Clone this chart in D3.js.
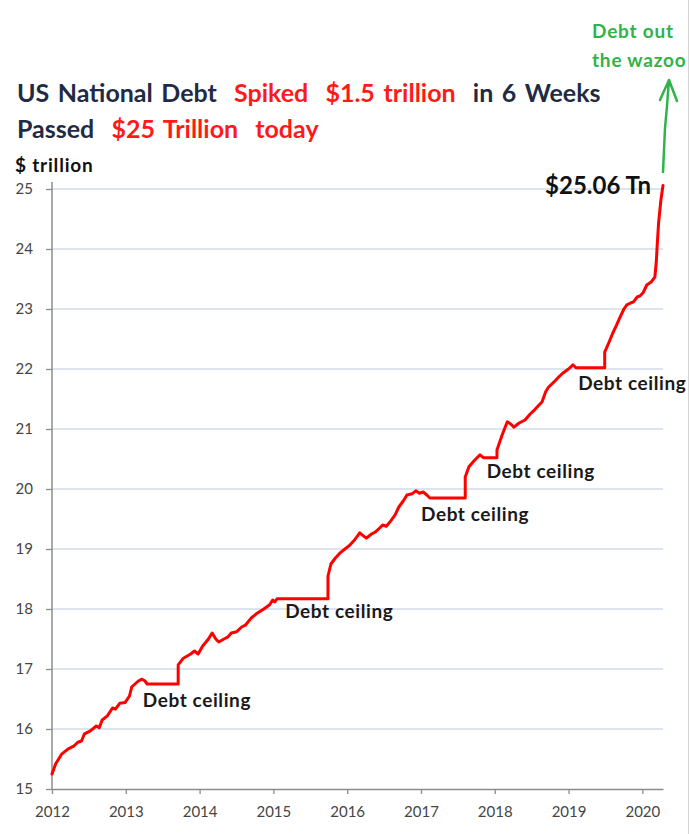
<!DOCTYPE html>
<html><head><meta charset="utf-8">
<script src="https://cdn.jsdelivr.net/npm/d3@7"></script>
<style>body{margin:0;background:#fff} svg{display:block}</style>
</head><body>
<svg id="c" width="690" height="834"></svg>
<script>
// ---- data ----
const years = [2012.00,2012.05,2012.13,2012.22,2012.30,2012.35,2012.40,2012.44,2012.52,2012.60,2012.64,2012.68,2012.75,2012.82,2012.86,2012.92,2012.99,
  2013.05,2013.08,2013.17,2013.22,2013.26,2013.29,2013.71,2013.71,2013.78,2013.88,2013.93,2013.98,
  2014.04,2014.12,2014.17,2014.22,2014.26,2014.33,2014.38,2014.43,2014.50,2014.57,2014.62,2014.70,2014.78,2014.87,2014.95,2014.99,
  2015.02,2015.05,2015.74,2015.74,2015.78,2015.84,2015.90,2015.97,
  2016.04,2016.10,2016.17,2016.22,2016.26,2016.33,2016.38,2016.44,2016.48,2016.53,2016.58,2016.65,2016.70,2016.76,2016.81,2016.88,2016.93,2016.98,
  2017.03,2017.08,2017.12,2017.60,2017.60,2017.65,2017.72,2017.80,2017.85,
  2018.03,2018.03,2018.10,2018.17,2018.22,2018.26,2018.33,2018.41,2018.48,2018.54,2018.60,2018.64,2018.69,2018.73,2018.80,2018.87,2018.92,
  2019.00,2019.06,2019.10,2019.49,2019.49,2019.55,2019.60,2019.65,2019.70,2019.75,2019.79,2019.84,2019.88,2019.93,2019.97,
  2020.01,2020.06,2020.12,2020.17,2020.19,2020.20,2020.22,2020.25,2020.28];
const debt = [15.25,15.42,15.58,15.67,15.72,15.78,15.80,15.92,15.97,16.05,16.02,16.15,16.22,16.35,16.33,16.43,16.44,
  16.55,16.70,16.80,16.83,16.80,16.75,16.75,17.07,17.18,17.25,17.30,17.25,
  17.38,17.50,17.60,17.50,17.45,17.50,17.53,17.60,17.62,17.70,17.73,17.85,17.93,18.00,18.07,18.15,
  18.12,18.17,18.17,18.55,18.75,18.85,18.93,19.00,
  19.07,19.15,19.27,19.22,19.18,19.25,19.28,19.35,19.40,19.38,19.45,19.57,19.70,19.80,19.90,19.92,19.97,19.93,
  19.95,19.90,19.85,19.85,20.20,20.37,20.47,20.57,20.52,
  20.52,20.65,20.90,21.12,21.08,21.03,21.10,21.15,21.25,21.32,21.40,21.45,21.62,21.70,21.78,21.87,21.93,
  22.00,22.07,22.02,22.02,22.28,22.45,22.60,22.73,22.87,23.00,23.07,23.10,23.12,23.20,23.22,
  23.27,23.40,23.45,23.53,23.80,24.03,24.43,24.80,25.06];
const xTicks = [2012,2013,2014,2015,2016,2017,2018,2019,2020];
const yTicks = [15,16,17,18,19,20,21,22,23,24,25];
const ceilingYears = [2013.23,2015.16,2017.00,2017.89,2019.13];
const ceilingLevels = [16.37,17.85,19.47,20.18,21.65];
const ceilingText = "Debt ceiling";
const lastLabel = "$25.06 Tn";
const yTitle = "$ trillion";
const title1 = [["US National Debt","#1f2b45"],["Spiked","#ff1a1a"],["$1.5 trillion","#ff1a1a"],["in 6 Weeks","#1f2b45"]];
const title2 = [["Passed","#1f2b45"],["$25 Trillion","#ff1a1a"],["today","#ff1a1a"]];
const greenNote = ["Debt out","the wazoo"];

// ---- drawing ----
const svg = d3.select("#c");
const FONT = "Lato, 'Open Sans', sans-serif";
const x = d3.scaleLinear().domain([2012, 2020.28]).range([52, 663]);
const y = d3.scaleLinear().domain([15, 25]).range([789, 189]);

svg.append("rect").attr("width",690).attr("height",834).attr("fill","#fff");
svg.append("line").attr("x1",688.5).attr("x2",688.5).attr("y1",0).attr("y2",834).attr("stroke","#d6d6d6").attr("stroke-width",1);

// gridlines
svg.append("g").selectAll("line").data(yTicks.filter(d=>d>15)).join("line")
  .attr("x1", x(2012)).attr("x2", x(2020.28))
  .attr("y1", d=>y(d)).attr("y2", d=>y(d))
  .attr("stroke","#dde4f0").attr("stroke-width",2);

// y axis
const ya = svg.append("g").attr("transform",`translate(${x(2012)},0)`)
  .call(d3.axisLeft(y).tickValues(yTicks).tickSize(6).tickSizeOuter(0).tickPadding(13).tickFormat(d3.format("d")));
ya.select(".domain").remove();
ya.selectAll(".tick line").attr("stroke","#8c8c8c").attr("stroke-width",1.3);
ya.selectAll("text").attr("font-family",FONT).attr("font-size",15).attr("fill","#454545");
svg.append("line").attr("x1",x(2012)).attr("x2",x(2012)).attr("y1",y(25)-7).attr("y2",y(15))
  .attr("stroke","#8c8c8c").attr("stroke-width",1.5);

// x axis
const xa = svg.append("g").attr("transform",`translate(0,${y(15)})`)
  .call(d3.axisBottom(x).tickValues(xTicks).tickSize(5).tickSizeOuter(0).tickPadding(12).tickFormat(d3.format("d")));
xa.select(".domain").attr("stroke","#8c8c8c").attr("stroke-width",1.5);
xa.selectAll(".tick line").attr("stroke","#8c8c8c").attr("stroke-width",1.3);
xa.selectAll("text").attr("font-family",FONT).attr("font-size",15).attr("fill","#454545");

// debt line
const pts = years.map((t,i)=>[t,debt[i]]);
svg.append("path").datum(pts)
  .attr("d", d3.line().x(d=>x(d[0])).y(d=>y(d[1])))
  .attr("fill","none").attr("stroke","#ff0000").attr("stroke-width",3)
  .attr("stroke-linejoin","round").attr("stroke-linecap","round");

// debt ceiling labels
svg.append("g").selectAll("text").data(ceilingYears).join("text")
  .attr("x", d=>x(d)).attr("y",(d,i)=>y(ceilingLevels[i]))
  .attr("font-family",FONT).attr("font-weight",700).attr("font-size",19).attr("letter-spacing",0.6).attr("fill","#1a1a1a")
  .text(ceilingText);

// last value label
svg.append("text").attr("x", x(2020.28)-12).attr("y", y(25.06)+9).attr("text-anchor","end")
  .attr("font-family",FONT).attr("font-weight",700).attr("font-size",24).attr("fill","#111")
  .text(lastLabel);

// y title
svg.append("text").attr("x",15).attr("y",172).attr("font-family",FONT).attr("font-weight",700)
  .attr("font-size",19).attr("letter-spacing",0.8).attr("fill","#111").text(yTitle);

// title
function titleLine(parts, yy){
  const t = svg.append("text").attr("x",17).attr("y",yy).attr("font-family",FONT)
    .attr("font-weight",700).attr("font-size",25).attr("word-spacing",2.5).attr("xml:space","preserve");
  parts.forEach((p,i)=>t.append("tspan").attr("fill",p[1]).text((i?"  ":"")+p[0]));
}
titleLine(title1, 102);
titleLine(title2, 138);

// green note
const g = svg.append("g");
g.selectAll("text").data(greenNote).join("text")
  .attr("x", 592).attr("y",(d,i)=> 38 + i*29)
  .attr("font-family",FONT).attr("font-weight",700).attr("font-size",19)
  .attr("letter-spacing",0.8).attr("fill","#2fb34a")
  .text(d=>d);
g.append("path").attr("d","M663,172 L664,150 L665,128 L667,106 L669,80 M660,100 L669,80 L677,101")
  .attr("fill","none").attr("stroke","#2fb34a").attr("stroke-width",2.5)
  .attr("stroke-linecap","round").attr("stroke-linejoin","round");
</script>
</body></html>
